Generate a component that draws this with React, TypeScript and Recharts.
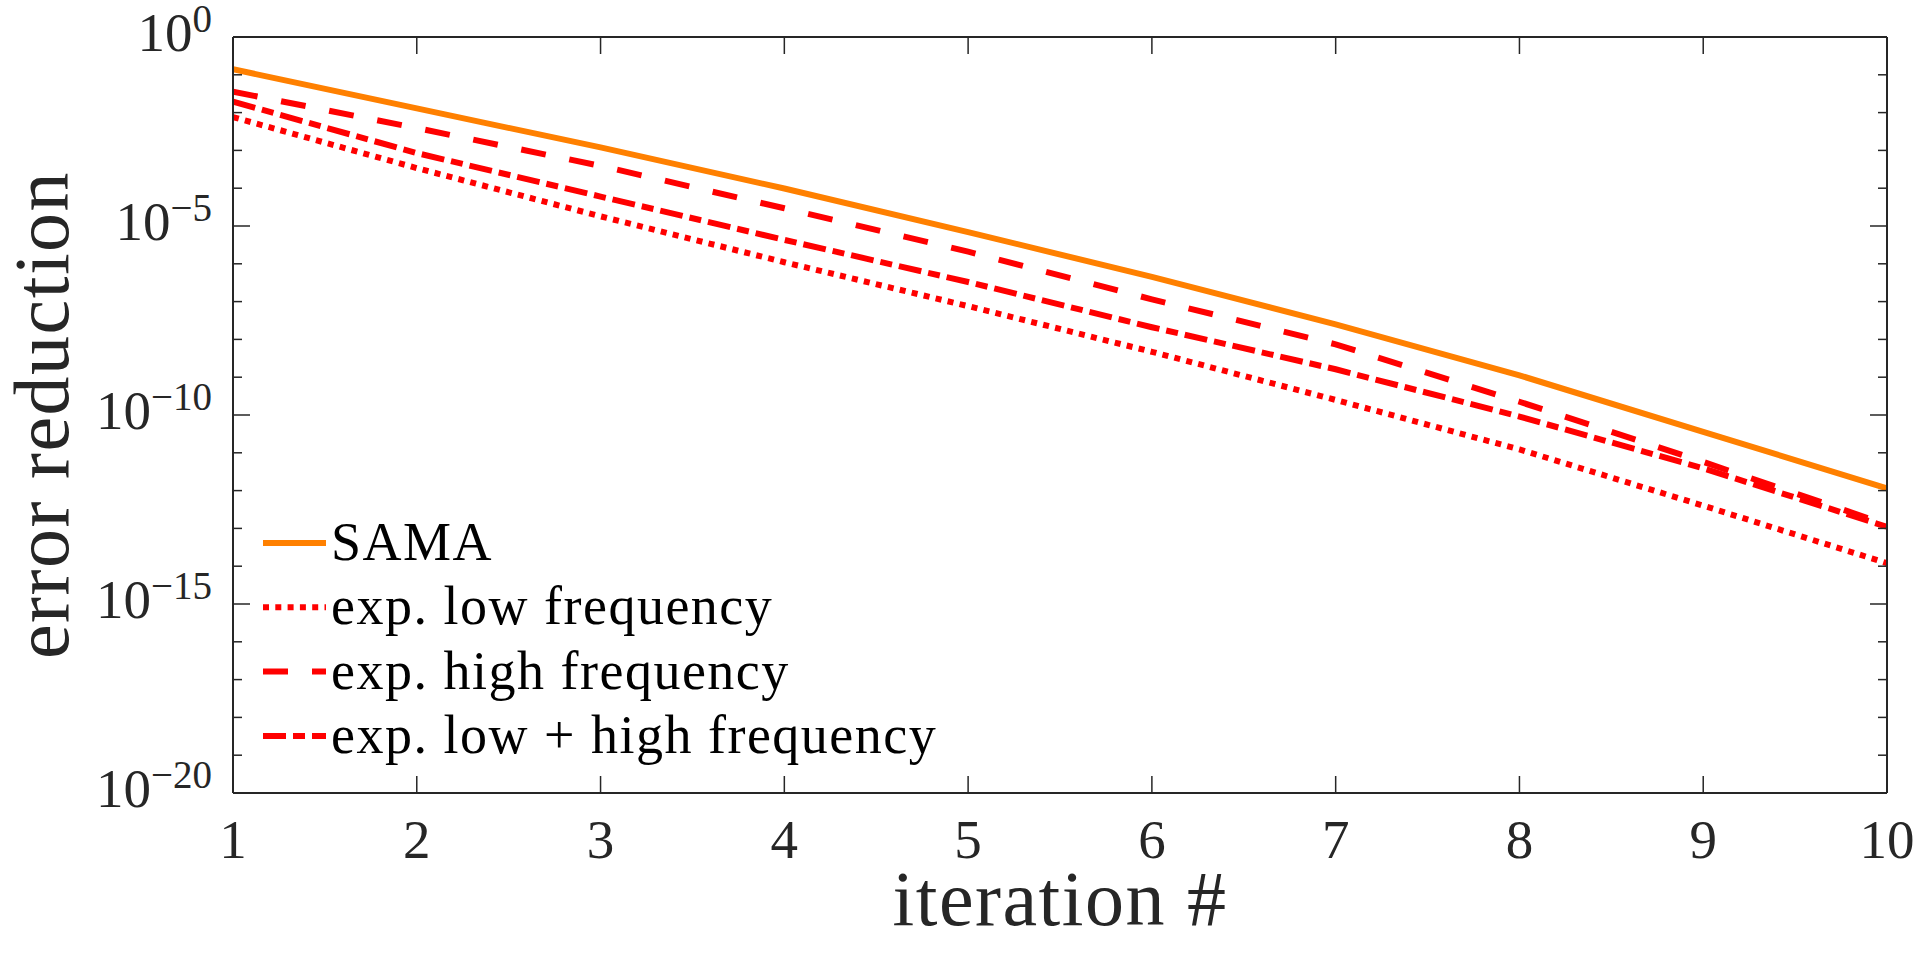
import React from 'react';
import { LineChart, Line, XAxis, YAxis, Legend } from 'recharts';

// ---- data ----
const iterations = [1, 2, 3, 4, 5, 6, 7, 8, 9, 10];
const samaValues = [1.4e-1, 1.29e-2, 1.2e-3, 9.8e-5, 6.9e-6, 4.5e-7, 2.5e-8, 1.12e-9, 3.6e-11, 1.15e-12];
const lowFreqValues = [7.6e-3, 3.4e-4, 1.8e-5, 1.1e-6, 7.6e-8, 4.7e-9, 2.5e-10, 1.23e-11, 4.0e-13, 1.2e-14];
const highFreqValues = [3.57e-2, 3.9e-3, 3.9e-4, 2.95e-5, 2.1e-6, 1.15e-7, 7.4e-9, 2.24e-10, 5.75e-12, 1.26e-13];
const lowHighFreqValues = [1.95e-2, 8.5e-4, 6.0e-5, 4.3e-6, 3.3e-7, 2.1e-8, 1.62e-9, 9.1e-11, 3.9e-12, 1.1e-13];

const xTicks = [1, 2, 3, 4, 5, 6, 7, 8, 9, 10];
const yTicks = [
  1e0, 1e-1, 1e-2, 1e-3, 1e-4, 1e-5, 1e-6, 1e-7, 1e-8, 1e-9, 1e-10,
  1e-11, 1e-12, 1e-13, 1e-14, 1e-15, 1e-16, 1e-17, 1e-18, 1e-19, 1e-20,
];
const seriesNames = ['SAMA', 'exp. low frequency', 'exp. high frequency', 'exp. low + high frequency'];
const xAxisTitle = 'iteration #';
const yAxisTitle = 'error reduction';

// ---- styles ----
const AXIS = '#262626';
const FONT = "'Liberation Serif', 'Times New Roman', serif";
const seriesKeys = ['sama', 'low', 'high', 'lowhigh'];
const seriesColors = ['#FF8000', '#FF0000', '#FF0000', '#FF0000'];
const seriesDash = ['', '6 6.3', '25 24', '23 7 12 7'];

const data = iterations.map((it, i) => ({
  iter: it,
  sama: samaValues[i],
  low: lowFreqValues[i],
  high: highFreqValues[i],
  lowhigh: lowHighFreqValues[i],
}));

const expOf = (v: number) => Math.round(Math.log10(v));

const LeftTick = (props: any) => {
  const { x, y, payload } = props;
  const e = expOf(payload.value);
  const major = e % 5 === 0;
  return (
    <g>
      <line x1={x} x2={x + (major ? 17 : 9)} y1={y} y2={y} stroke={AXIS} strokeWidth={1.5} />
      {major && (
        <text x={x - 21} y={y + 14} textAnchor="end" fontSize={55} fontFamily={FONT} fill={AXIS}>
          10
          <tspan dy={-19} fontSize={39}>{e === 0 ? '0' : '\u2212' + String(-e)}</tspan>
        </text>
      )}
    </g>
  );
};

const RightTick = (props: any) => {
  const { x, y, payload } = props;
  const e = expOf(payload.value);
  const major = e % 5 === 0;
  return <line x1={x} x2={x - (major ? 17 : 9)} y1={y} y2={y} stroke={AXIS} strokeWidth={1.5} />;
};

const BottomTick = (props: any) => {
  const { x, y, payload } = props;
  return (
    <g>
      <line x1={x} x2={x} y1={y} y2={y - 17} stroke={AXIS} strokeWidth={1.5} />
      <text x={x} y={y + 65} textAnchor="middle" fontSize={55} fontFamily={FONT} fill={AXIS}>
        {payload.value}
      </text>
    </g>
  );
};

const TopTick = (props: any) => {
  const { x, y } = props;
  return <line x1={x} x2={x} y1={y} y2={y + 17} stroke={AXIS} strokeWidth={1.5} />;
};

const renderXLabel = (props: any) => {
  const vb = props.viewBox || { x: 233, y: 793, width: 1654, height: 1 };
  return (
    <text
      x={vb.x + vb.width / 2}
      y={vb.y + 132}
      textAnchor="middle"
      fontSize={78}
      letterSpacing={1.5}
      fontFamily={FONT}
      fill={AXIS}
    >
      {xAxisTitle}
    </text>
  );
};

const renderYLabel = (props: any) => {
  const vb = props.viewBox || { x: 232, y: 37, width: 1, height: 756 };
  const cx = 68;
  const cy = vb.y + vb.height / 2;
  return (
    <text
      x={cx}
      y={cy}
      transform={`rotate(-90 ${cx} ${cy})`}
      textAnchor="middle"
      fontSize={78}
      letterSpacing={1.5}
      fontFamily={FONT}
      fill={AXIS}
    >
      {yAxisTitle}
    </text>
  );
};

const renderLegend = () => (
  <svg width={760} height={270} style={{ display: 'block' }}>
    {seriesNames.map((name, i) => {
      const cy = 35 + i * 64.3;
      return (
        <g key={name}>
          <line
            x1={5}
            x2={68}
            y1={cy}
            y2={cy}
            stroke={seriesColors[i]}
            strokeWidth={6}
            strokeDasharray={seriesDash[i] || undefined}
          />
          <text x={73} y={cy + 17} fontSize={54} letterSpacing={1.5} fontFamily={FONT} fill="#000">
            {name}
          </text>
        </g>
      );
    })}
  </svg>
);

export default function App() {
  return (
    <div style={{ position: 'absolute', left: 0, top: 0, width: 1919, height: 959, background: '#fff' }}>
      <LineChart
        width={1919}
        height={959}
        data={data}
        margin={{ top: 36, right: 31, bottom: 165, left: 232 }}
      >
        <XAxis
          dataKey="iter"
          type="number"
          domain={[1, 10]}
          ticks={xTicks}
          interval={0}
          allowDataOverflow
          height={1}
          tickSize={0}
          tickMargin={0}
          tickLine={false}
          axisLine={{ stroke: AXIS, strokeWidth: 2 }}
          tick={(p: any) => <BottomTick {...p} />}
          label={renderXLabel}
        />
        <XAxis
          xAxisId="top"
          orientation="top"
          dataKey="iter"
          type="number"
          domain={[1, 10]}
          ticks={xTicks}
          interval={0}
          allowDataOverflow
          height={1}
          tickSize={0}
          tickMargin={0}
          tickLine={false}
          axisLine={{ stroke: AXIS, strokeWidth: 2 }}
          tick={(p: any) => <TopTick {...p} />}
        />
        <YAxis
          type="number"
          scale="log"
          domain={[1e-20, 1]}
          ticks={yTicks}
          interval={0}
          allowDataOverflow
          width={1}
          tickSize={0}
          tickMargin={0}
          tickLine={false}
          axisLine={{ stroke: AXIS, strokeWidth: 2 }}
          tick={(p: any) => <LeftTick {...p} />}
          label={renderYLabel}
        />
        <YAxis
          yAxisId="right"
          orientation="right"
          type="number"
          scale="log"
          domain={[1e-20, 1]}
          ticks={yTicks}
          interval={0}
          allowDataOverflow
          width={1}
          tickSize={0}
          tickMargin={0}
          tickLine={false}
          axisLine={{ stroke: AXIS, strokeWidth: 2 }}
          tick={(p: any) => <RightTick {...p} />}
        />
        {seriesKeys.map((k, i) => (
          <Line
            key={k}
            type="linear"
            dataKey={k}
            name={seriesNames[i]}
            stroke={seriesColors[i]}
            strokeWidth={6}
            strokeDasharray={seriesDash[i] || undefined}
            dot={false}
            activeDot={false}
            isAnimationActive={false}
          />
        ))}
        <Legend
          layout="vertical"
          align="center"
          verticalAlign="middle"
          width={760}
          height={270}
          wrapperStyle={{ left: 258, top: 508, width: 760, height: 270 }}
          content={renderLegend}
        />
      </LineChart>
    </div>
  );
}
